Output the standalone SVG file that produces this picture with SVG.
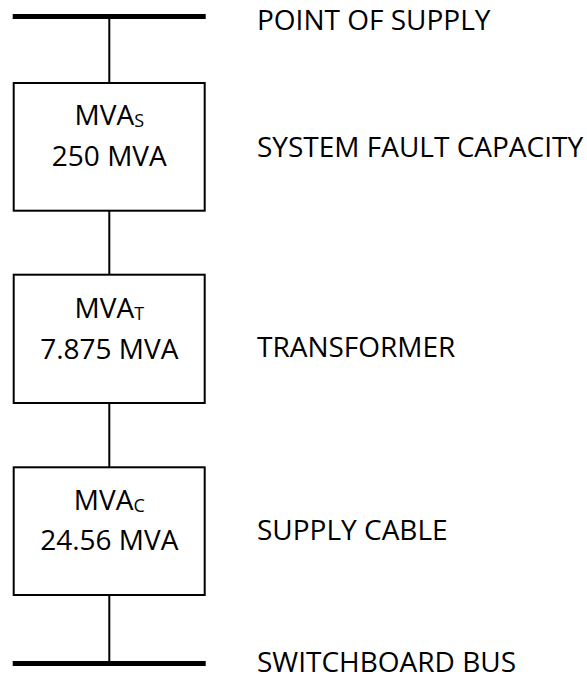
<svg xmlns="http://www.w3.org/2000/svg" width="587" height="679" viewBox="0 0 587 679">
<style>
  .bg { fill: #ffffff; }
  .bus { stroke: #000; stroke-width: 5; fill: none; }
  .wire { stroke: #000; stroke-width: 2; fill: none; }
  .box { fill: #fff; stroke: #000; stroke-width: 2; }
  .t { font-family: "Open Sans", "Liberation Sans", sans-serif; font-size: 28px; fill: #000; }
  .c { text-anchor: middle; }
  .sub { font-size: 18px; }
</style>
<rect class="bg" x="0" y="0" width="587" height="679"/>
<g id="connectors">
  <line class="wire" x1="109.3" y1="16.5" x2="109.3" y2="83"/>
  <line class="wire" x1="109.3" y1="210.7" x2="109.3" y2="274.7"/>
  <line class="wire" x1="109.3" y1="403" x2="109.3" y2="467.3"/>
  <line class="wire" x1="109.3" y1="595" x2="109.3" y2="663.5"/>
</g>
<g id="point-of-supply">
  <line class="bus" x1="12.7" y1="16.4" x2="205.7" y2="16.4"/>
  <text class="t" x="257" y="29.5">POINT OF SUPPLY</text>
</g>
<g id="system-fault">
  <rect class="box" x="13.7" y="83" width="191" height="127.7"/>
  <text class="t c" x="109.3" y="124.5">MVA<tspan class="sub" dy="2">S</tspan></text>
  <text class="t c" x="109.3" y="165.5">250 MVA</text>
  <text class="t" x="257" y="157">SYSTEM FAULT CAPACITY</text>
</g>
<g id="transformer">
  <rect class="box" x="13.7" y="274.7" width="191" height="128.3"/>
  <text class="t c" x="109.3" y="317.5">MVA<tspan class="sub" dy="2">T</tspan></text>
  <text class="t c" x="109.3" y="358.5">7.875 MVA</text>
  <text class="t" x="257" y="357">TRANSFORMER</text>
</g>
<g id="supply-cable">
  <rect class="box" x="13.7" y="467.3" width="191" height="127.7"/>
  <text class="t c" x="109.3" y="509.5">MVA<tspan class="sub" dy="2">C</tspan></text>
  <text class="t c" x="109.3" y="550">24.56 MVA</text>
  <text class="t" x="257" y="540">SUPPLY CABLE</text>
</g>
<g id="switchboard-bus">
  <line class="bus" x1="12.7" y1="663.5" x2="205.7" y2="663.5"/>
  <text class="t" x="257" y="672">SWITCHBOARD BUS</text>
</g>
</svg>
